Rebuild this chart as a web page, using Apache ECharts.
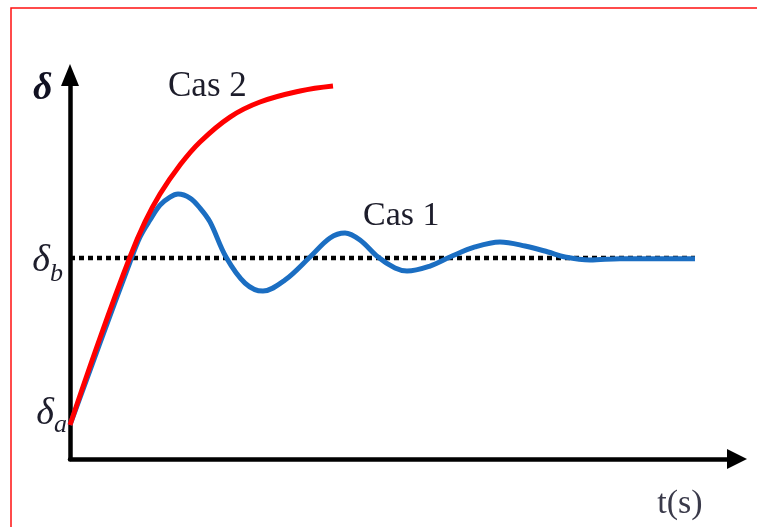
<!DOCTYPE html>
<html>
<head>
<meta charset="utf-8">
<style>
  html, body { margin: 0; padding: 0; background: #ffffff; }
  #chart { width: 757px; height: 527px; }
</style>
<script src="https://cdn.jsdelivr.net/npm/echarts@6/dist/echarts.min.js"></script>
</head>
<body>
<div id="chart"></div>
<script>
// Time axis (arbitrary units) and rotor angle δ, normalised so that δa = 0 and δb = 1.
const cas1T = [0, 0.6, 1.2, 1.4, 1.6, 1.8, 2.0, 2.16, 2.4, 2.6, 2.8, 3.12, 3.5, 3.86, 4.3, 4.8,
               5.2, 5.5, 5.8, 6.16, 6.5, 6.74, 7.2, 7.6, 8.1, 8.6, 9.1, 9.56, 9.9, 10.4, 11.0, 12.5];
const cas1Delta = [0, 0.491, 0.976, 1.126, 1.228, 1.317, 1.365, 1.383, 1.359, 1.299, 1.216, 1.006,
                   0.850, 0.802, 0.868, 1.006, 1.120, 1.150, 1.108, 1.006, 0.940, 0.922, 0.952,
                   1.006, 1.066, 1.096, 1.072, 1.036, 1.006, 0.988, 0.996, 0.996];

const cas2T = [0, 0.6, 1.2, 1.5, 1.8, 2.2, 2.6, 3.2, 3.8, 4.6, 5.26];
const cas2Delta = [0, 0.521, 1.006, 1.216, 1.383, 1.557, 1.695, 1.844, 1.934, 2.000, 2.030];

// Steady-state reference δb
const refT = [0, 12.5];
const refDelta = [1, 1];

// Values that carry a label on the δ axis
const yLabelValues = [0, 1];

const zip = (xs, ys) => xs.map((x, i) => [x, ys[i]]);

const chart = echarts.init(document.getElementById('chart'), null, { renderer: 'canvas' });

const serif = '"Liberation Serif", "DejaVu Serif", serif';
const ink = '#1d1d2b';

chart.setOption({
  animation: false,
  backgroundColor: '#ffffff',
  grid: { left: 70, right: 20, top: 75, bottom: 68, containLabel: false },
  xAxis: {
    type: 'value',
    min: 0,
    max: 13.34,
    axisLine: {
      show: true,
      onZero: false,
      symbol: ['none', 'triangle'],
      symbolSize: [20, 20],
      lineStyle: { color: '#000000', width: 4.5 }
    },
    axisTick: { show: false },
    axisLabel: { show: false },
    splitLine: { show: false }
  },
  yAxis: {
    type: 'value',
    min: -0.2036,
    max: 2.0958,
    axisLine: {
      show: true,
      onZero: false,
      symbol: ['none', 'triangle'],
      symbolSize: [18, 22],
      lineStyle: { color: '#000000', width: 4.5 }
    },
    axisTick: { show: false },
    splitLine: { show: false },
    axisLabel: {
      show: true,
      customValues: yLabelValues,
      margin: 3,
      align: 'right',
      verticalAlign: 'middle',
      formatter: v => (v === 0 ? '{da|δ}{a|a}' : '{db|δ}{b|b}'),
      rich: {
        da: { fontFamily: serif, fontStyle: 'italic', fontSize: 38, lineHeight: 38, color: ink, padding: [0, 0, 21, 0] },
        a:  { fontFamily: serif, fontStyle: 'italic', fontSize: 26, lineHeight: 26, color: ink },
        db: { fontFamily: serif, fontStyle: 'italic', fontSize: 38, lineHeight: 38, color: ink, padding: [7, 0, 0, 0] },
        b:  { fontFamily: serif, fontStyle: 'italic', fontSize: 26, lineHeight: 26, color: ink, padding: [32, 4, 0, 0] }
      }
    }
  },
  series: [
    {
      name: 'δb',
      type: 'line',
      data: zip(refT, refDelta),
      symbol: 'none',
      silent: true,
      lineStyle: { color: '#000000', width: 4.5, type: [5, 4], cap: 'butt' },
      z: 2
    },
    {
      name: 'Cas 1',
      type: 'line',
      data: zip(cas1T, cas1Delta),
      symbol: 'none',
      smooth: 0.35,
      lineStyle: { color: '#1b6ec2', width: 5 },
      z: 3
    },
    {
      name: 'Cas 2',
      type: 'line',
      data: zip(cas2T, cas2Delta),
      symbol: 'none',
      smooth: 0.4,
      lineStyle: { color: '#ff0000', width: 5 },
      z: 4
    }
  ],
  graphic: [
    {
      type: 'polyline',
      silent: true,
      shape: { points: [[11, 527], [11, 8], [757, 8]] },
      style: { stroke: '#ff1010', lineWidth: 1.5, fill: null }
    },
    {
      type: 'text', left: 33, top: 70,
      style: { text: 'δ', font: 'italic bold 38px ' + serif, fill: '#111122' }
    },
    {
      type: 'text', x: 168, y: 87,
      style: { text: 'Cas 2', font: '35px ' + serif, fill: ink, verticalAlign: 'middle', align: 'left' }
    },
    {
      type: 'text', x: 363, y: 216,
      style: { text: 'Cas 1', font: '34px ' + serif, fill: ink, verticalAlign: 'middle', align: 'left' }
    },
    {
      type: 'text', x: 680, y: 504,
      style: { text: 't(s)', font: '34px ' + serif, fill: '#3a3a4a', verticalAlign: 'middle', align: 'center' }
    }
  ]
});
</script>
</body>
</html>
